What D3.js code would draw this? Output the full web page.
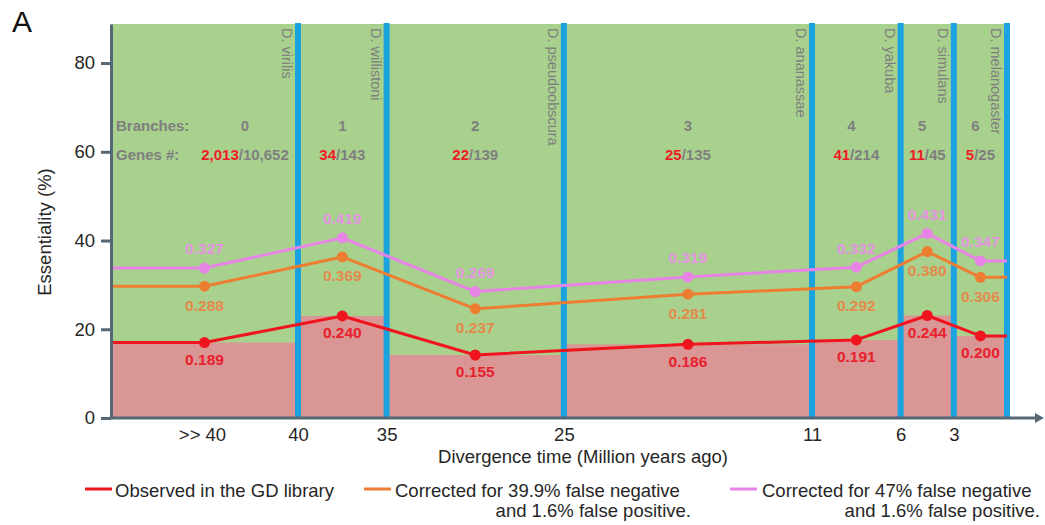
<!DOCTYPE html>
<html><head><meta charset="utf-8">
<script src="https://cdn.jsdelivr.net/npm/d3@7"></script>
<style>body{margin:0;background:#fff;} svg{display:block;font-family:"Liberation Sans",Arial,sans-serif;}</style>
</head><body><svg id="chart" width="1045" height="525"></svg>
<script>
// ---- data ----
const branches = ["0","1","2","3","4","5","6"];
const essentialGenes = ["2,013","34","22","25","41","11","5"];
const totalGenes = ["10,652","143","139","135","214","45","25"];
const species = ["D. virilis","D. willistoni","D. pseudoobscura","D. ananassae","D. yakuba","D. simulans","D. melanogaster"];
const divergenceTimes = [40,35,25,11,6,3,0];
const timeTickLabels = ["40","35","25","11","6","3",""];
const oldestLabel = ">> 40";
const observed = [17.0,23.0,14.2,16.6,17.6,23.1,18.5];
const corrected399 = [29.7,36.3,24.6,27.9,29.6,37.5,31.7];
const corrected47 = [33.8,40.6,28.5,31.8,34.0,41.6,35.4];
const observedLabels = ["0.189","0.240","0.155","0.186","0.191","0.244","0.200"];
const corrected399Labels = ["0.288","0.369","0.237","0.281","0.292","0.380","0.306"];
const corrected47Labels = ["0.327","0.419","0.269","0.319","0.332","0.431","0.347"];
const yTicks = [0,20,40,60,80];
const legendLabels = [["Observed in the GD library"],["Corrected for 39.9% false negative","and 1.6% false positive."],["Corrected for 47% false negative","and 1.6% false positive."]];

// ---- layout ----
const svg = d3.select("#chart");
const plotLeft = 111, plotTop = 24, plotBottom = 418;
const x = d3.scaleLinear().domain([0,40]).range([1007,298]);
const y = d3.scaleLinear().domain([0,88.8]).range([plotBottom,plotTop]);
const bounds = [plotLeft, ...divergenceTimes.map(t => x(t))];
const mids = d3.range(7).map(i => (bounds[i] + bounds[i+1]) / 2);

const C = {green:"#a9d18e", redArea:"#d99694", blue:"#1ba3e0", axis:"#566776",
  red:"#f0141e", orange:"#ed7d31", pink:"#e884e6",
  redText:"#e8202c", orangeText:"#e38a4c", pinkText:"#e494e2", grey:"#7f7f7f"};

// background
svg.append("rect").attr("x", plotLeft).attr("y", plotTop).attr("width", x(0) - plotLeft).attr("height", plotBottom - plotTop).attr("fill", C.green);
svg.append("g").selectAll("rect").data(observed).join("rect")
  .attr("x", (d,i) => bounds[i]).attr("width", (d,i) => bounds[i+1] - bounds[i])
  .attr("y", d => y(d)).attr("height", d => plotBottom - y(d)).attr("fill", C.redArea);

// blue divergence lines
svg.append("g").selectAll("line").data(divergenceTimes).join("line")
  .attr("x1", d => x(d)).attr("x2", d => x(d)).attr("y1", plotTop - 1).attr("y2", plotBottom)
  .attr("stroke", C.blue).attr("stroke-width", 6);

// species labels
svg.append("g").selectAll("text").data(species).join("text")
  .attr("transform", (d,i) => `translate(${x(divergenceTimes[i]) - 16},${plotTop + 4}) rotate(90)`)
  .attr("font-size", 14.5).attr("fill", C.grey).text(d => d);

// branch / gene counts
const info = svg.append("g").attr("font-weight", "bold").attr("font-size", 15);
info.append("text").attr("x", 116).attr("y", 131).attr("fill", C.grey).text("Branches:");
info.append("text").attr("x", 116).attr("y", 160).attr("fill", C.grey).text("Genes #:");
const labelX = i => i === 0 ? 245 : mids[i];
info.selectAll("text.br").data(branches).join("text").attr("class","br")
  .attr("x", (d,i) => labelX(i) - (i >= 4 ? 5 : 0)).attr("y", 131).attr("text-anchor","middle").attr("fill", C.grey).text(d => d);
const gt = info.selectAll("text.gn").data(essentialGenes).join("text").attr("class","gn")
  .attr("x", (d,i) => labelX(i)).attr("y", 160).attr("text-anchor","middle");
gt.append("tspan").attr("fill", "#ee1c24").text(d => d);
gt.append("tspan").attr("fill", C.grey).text((d,i) => "/" + totalGenes[i]);

// series
const seriesDefs = [
  {vals: corrected399, labels: corrected399Labels, color: C.orange, tcolor: C.orangeText, dy: 19},
  {vals: corrected47, labels: corrected47Labels, color: C.pink, tcolor: C.pinkText, dy: -19},
  {vals: observed, labels: observedLabels, color: C.red, tcolor: C.redText, dy: 17}
];
const line = d3.line().x(d => d[0]).y(d => y(d[1]));
seriesDefs.forEach(s => {
  const pts = [[plotLeft + 1.5, s.vals[0]], ...mids.map((m,i) => [m, s.vals[i]]), [x(0), s.vals[6]]];
  svg.append("path").attr("d", line(pts)).attr("fill","none").attr("stroke", s.color).attr("stroke-width", 3).attr("stroke-linejoin","round");
  svg.append("g").selectAll("circle").data(s.vals).join("circle")
    .attr("cx", (d,i) => mids[i]).attr("cy", d => y(d)).attr("r", 5.5).attr("fill", s.color);
});
seriesDefs.forEach(s => {
  svg.append("g").selectAll("text").data(s.labels).join("text")
    .attr("x", (d,i) => mids[i]).attr("y", (d,i) => y(s.vals[i]) + s.dy).attr("dy","0.35em")
    .attr("text-anchor","middle").attr("font-weight","bold").attr("font-size", 15.5)
    .attr("fill", s.tcolor).text(d => d);
});

// y axis
const ya = svg.append("g").attr("transform", `translate(${plotLeft},0)`)
  .call(d3.axisLeft(y).tickValues(yTicks).tickSize(10).tickSizeOuter(0).tickPadding(6));
ya.select(".domain").attr("stroke", C.axis).attr("stroke-width", 3);
ya.selectAll(".tick line").attr("stroke", C.axis).attr("stroke-width", 3);
ya.selectAll(".tick text").attr("font-size", 18.5).attr("fill", "#262626").attr("font-family", "Liberation Sans, Arial, sans-serif");

// x axis
const xa = svg.append("g").attr("transform", `translate(0,${plotBottom})`)
  .call(d3.axisBottom(x).tickValues(divergenceTimes).tickFormat((d,i) => timeTickLabels[i]).tickSize(0).tickPadding(10));
xa.select(".domain").remove();
xa.selectAll(".tick text").attr("font-size", 18.5).attr("fill", "#262626").attr("font-family", "Liberation Sans, Arial, sans-serif");
svg.append("text").attr("x", (plotLeft + x(40)) / 2 - 2).attr("y", plotBottom + 10).attr("dy","0.71em")
  .attr("text-anchor","middle").attr("font-size", 18.5).attr("fill","#262626").text(oldestLabel);
svg.append("line").attr("x1", plotLeft - 1.5).attr("x2", 1037).attr("y1", plotBottom).attr("y2", plotBottom)
  .attr("stroke", C.axis).attr("stroke-width", 3);
svg.append("path").attr("d", `M1035,${plotBottom-5}L1044,${plotBottom}L1035,${plotBottom+5}Z`).attr("fill", C.axis);

// titles
svg.append("text").attr("x", 583).attr("y", 463).attr("text-anchor","middle").attr("font-size", 18.5).attr("fill","#262626")
  .text("Divergence time (Million years ago)");
svg.append("text").attr("transform","translate(51,232) rotate(-90)").attr("text-anchor","middle").attr("font-size", 18.5).attr("fill","#262626")
  .text("Essentiality (%)");
svg.append("text").attr("x", 12).attr("y", 32).attr("font-size", 30).attr("fill","#111").text("A");

// legend
const legendPos = [{lx: 85, tx: 115, end: null}, {lx: 364, tx: 395, end: 691}, {lx: 730, tx: 762, end: 1040}];
const legendColors = [C.red, C.orange, C.pink];
const lg = svg.append("g").attr("font-size", 18.5).attr("fill", "#262626");
legendLabels.forEach((lines, i) => {
  const p = legendPos[i];
  lg.append("line").attr("x1", p.lx).attr("x2", p.lx + 27).attr("y1", 489).attr("y2", 489)
    .attr("stroke", legendColors[i]).attr("stroke-width", 3);
  lg.append("text").attr("x", p.tx).attr("y", 497).text(lines[0]);
  if (lines[1]) lg.append("text").attr("x", p.end).attr("y", 517).attr("text-anchor","end").text(lines[1]);
});
</script></body></html>
